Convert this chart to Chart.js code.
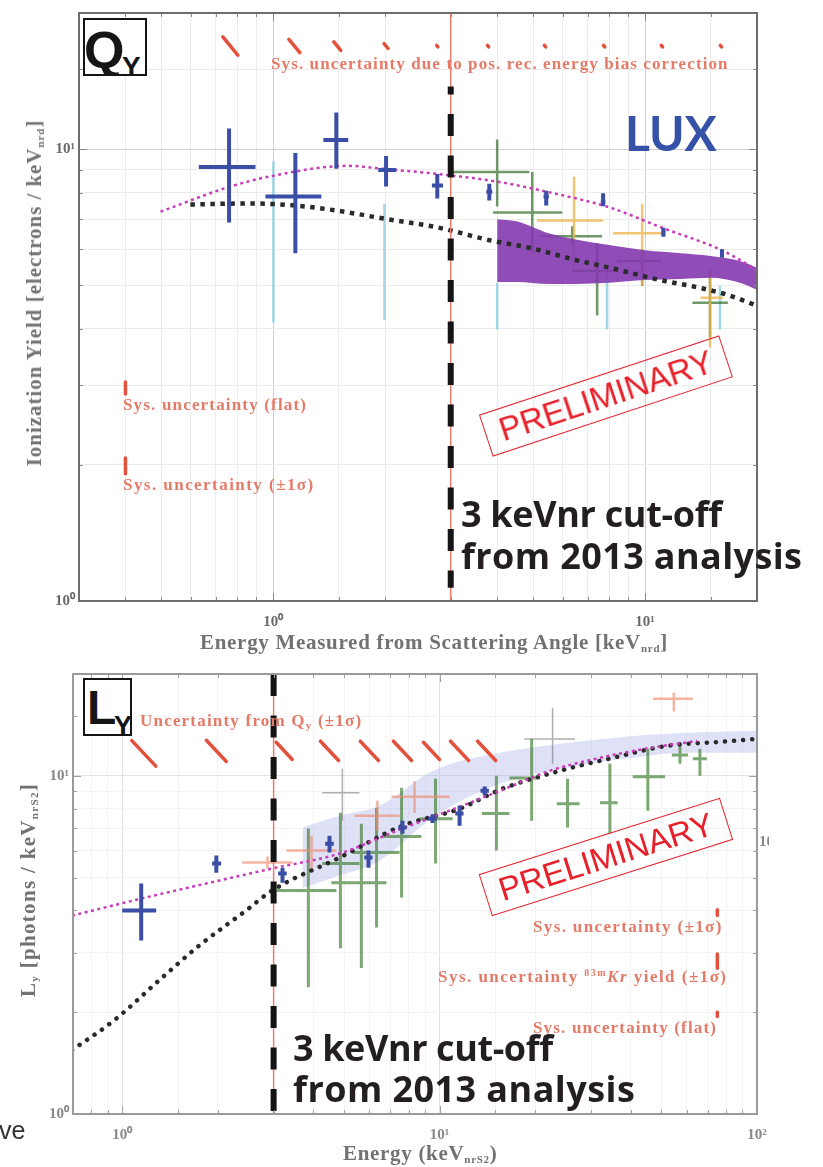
<!DOCTYPE html>
<html>
<head>
<meta charset="utf-8">
<title>LUX Qy and Ly</title>
<script src="https://cdn.jsdelivr.net/npm/chart.js@4.4.1/dist/chart.umd.min.js"></script>
<style>
  body { margin: 0; background: #fff; }
  #page { position: relative; width: 823px; height: 1167px; overflow: hidden; background: #fff; }
  canvas { position: absolute; left: 0; }
  .txt { position: absolute; white-space: nowrap; }
  .sys { font: bold 17px/16px 'Liberation Serif', serif; color: #e47a68; }
  .title { font: bold 21px/20px 'Liberation Serif', serif; color: #727272; }
  .title sub, .sys sub { font-size: 11px; vertical-align: -3px; line-height: 0; }
  .sys sup { font-size: 10px; vertical-align: 6px; line-height: 0; }
  .ytitle { transform: translate(-50%, -50%) rotate(-90deg); }
  .cutoff { font: 700 36px/1 'Open Sans', sans-serif; color: #231f20; }
  .prelim { border: 1.5px solid #e8202a; color: #e8202a; font: 33px/38px 'Liberation Sans', Arial, sans-serif;
            padding: 2px 14px; transform: translate(-50%, -50%) rotate(-18.3deg); }
  .tag { position: absolute; border: 2.5px solid #151515; overflow: hidden; background: #fff;
         font-family: 'Liberation Sans', Arial, sans-serif; font-weight: bold; color: #151515; line-height: 1; }
  .tag span { position: absolute; }
</style>
</head>
<body>
<div id="page">
  <canvas id="qyChart" width="823" height="660" style="top:0"></canvas>
  <canvas id="lyChart" width="823" height="507" style="top:660px"></canvas>

  <!-- Qy panel labels -->
  <div class="tag" style="left:83px;top:18px;width:60px;height:54px"><span style="left:-1px;top:4px;font-size:52px">Q</span><span style="left:37px;top:33px;font-size:28px">Y</span></div>
  <div class="txt" style="left:625px;top:109px;font:700 48px/1 Lato,sans-serif;color:#3552a8">LUX</div>
  <div class="txt sys" data-w="458" style="left:271px;top:56px">Sys. uncertainty due to pos. rec. energy bias correction</div>
  <div class="txt sys" data-w="184" style="left:123px;top:397px">Sys. uncertainty (flat)</div>
  <div class="txt sys" data-w="192" style="left:123px;top:477px">Sys. uncertainty (±1σ)</div>
  <div class="txt prelim" style="left:606px;top:396px">PRELIMINARY</div>
  <div class="txt cutoff" data-w="261" style="left:461px;top:496px">3 keVnr cut-off</div>
  <div class="txt cutoff" data-w="341" style="left:461px;top:538px">from 2013 analysis</div>
  <div class="txt title" data-w="468" style="left:200px;top:632px">Energy Measured from Scattering Angle [keV<sub>nrd</sub>]</div>
  <div class="txt title ytitle" data-w="347" style="left:34px;top:293px">Ionization Yield [electrons / keV<sub>nrd</sub>]</div>

  <!-- Ly panel labels -->
  <div class="tag" style="left:83px;top:678px;width:45px;height:54px"><span style="left:2px;top:4px;font-size:48px">L</span><span style="left:29px;top:33px;font-size:27px">Y</span></div>
  <div class="txt sys" data-w="222" style="left:140px;top:713px">Uncertainty from Q<sub>y</sub> (±1σ)</div>
  <div class="txt sys" data-w="190" style="left:533px;top:919px">Sys. uncertainty (±1σ)</div>
  <div class="txt sys" data-w="290" style="left:438px;top:969px">Sys. uncertainty <sup>83m</sup><i>Kr</i> yield (±1σ)</div>
  <div class="txt sys" data-w="184" style="left:533px;top:1020px">Sys. uncertainty (flat)</div>
  <div class="txt prelim" style="left:606px;top:857px;transform:translate(-50%,-50%) rotate(-17.6deg)">PRELIMINARY</div>
  <div class="txt cutoff" data-w="260" style="left:293px;top:1030px">3 keVnr cut-off</div>
  <div class="txt cutoff" data-w="342" style="left:293px;top:1071px">from 2013 analysis</div>
  <div class="txt title" data-w="154" style="left:343px;top:1143px">Energy (keV<sub>nrS2</sub>)</div>
  <div class="txt title ytitle" data-w="214" style="left:28px;top:890px">L<sub>y</sub> [photons / keV<sub>nrS2</sub>]</div>
  <div class="txt" style="left:759px;top:834px;width:10px;overflow:hidden;font:bold 15px/1 'Liberation Serif',serif;color:#888">10</div>
  <div class="txt" style="left:-1px;top:1118px;font:25px/1 'Liberation Sans',sans-serif;color:#333">ve</div>
</div>

<script>
// ---------- Qy panel (ionization yield, electrons/keVnr) ----------
const qyCutoff = 3;
const qyCutoffDash = [13.75, 1.07];

// rows: [E, Elo, Ehi, Qy, QyLo, QyHi]
const qyBlue = [
  [0.76, 0.63, 0.895, 9.13, 6.88, 11.1],
  [1.146, 0.952, 1.346, 7.85, 5.88, 9.8],
  [1.477, 1.363, 1.59, 10.47, 9.04, 12.05],
  [2.01, 1.915, 2.14, 8.99, 8.26, 9.65],
  [2.76, 2.67, 2.86, 8.3, 7.77, 8.81],
  [3.81, 3.74, 3.88, 8.05, 7.69, 8.38],
  [5.42, 5.33, 5.51, 7.85, 7.5, 8.09],
  [7.71, 7.6, 7.82, 7.65, 7.47, 7.98],
  [11.2, 11.05, 11.35, 6.54, 6.4, 6.7],
  [16.1, 15.9, 16.3, 5.88, 5.75, 6.0]
];
const qyGreen = [
  [4.0, 3.0, 4.88, 8.9, 7.46, 10.5],
  [4.97, 3.9, 5.98, 7.24, 5.88, 8.9],
  [6.37, 5.22, 7.66, 6.41, 6.1, 6.75],
  [7.43, 6.37, 8.3, 5.37, 4.28, 6.19],
  [9.82, 8.41, 11.1, 5.65, 4.98, 6.0],
  [14.95, 13.4, 16.7, 4.57, 3.83, 5.4]
];
const qyOrange = [
  [6.44, 5.12, 7.71, 6.95, 5.4, 8.68],
  [9.82, 8.2, 11.2, 6.51, 4.98, 7.57],
  [14.95, 14.1, 16.2, 4.69, 3.64, 5.4]
];
// rows: [E, QyLo, QyHi]
const qyCyan = [
  [1.0, 4.13, 9.4],
  [1.99, 4.18, 7.57],
  [4.0, 3.99, 5.06],
  [7.9, 3.99, 5.4],
  [15.9, 3.99, 4.98]
];

// shaded band
const qyBandE = [4.0, 4.5, 5.5, 6.5, 8, 10, 12.5, 15, 18, 20];
const qyBandHi = [6.99, 6.92, 6.51, 6.31, 6.13, 5.97, 5.88, 5.80, 5.65, 5.46];
const qyBandLo = [5.08, 5.08, 5.03, 5.03, 5.06, 5.13, 5.16, 5.19, 5.06, 4.88];

// black dotted model and magenta dotted fit
const qyModelE = [0.598, 0.867, 1.146, 1.477, 1.976, 2.76, 3.83, 4.91, 6.52, 8.05, 10.97, 14.06, 16.9, 20];
const qyModelQ = [7.54, 7.58, 7.50, 7.31, 7.02, 6.71, 6.28, 6.04, 5.68, 5.46, 5.13, 4.93, 4.74, 4.50];
const qyFitE = [0.497, 0.762, 1.0, 1.58, 1.976, 2.76, 4.0, 5.42, 8.05, 11.2, 16.1, 20];
const qyFitQ = [7.27, 8.25, 8.73, 9.18, 9.04, 8.81, 8.47, 8.05, 7.42, 6.68, 5.97, 5.40];

// energy-bias systematic (slanted marks along the top)
const qyBiasE = [0.766, 1.139, 1.486, 2.01, 2.76, 3.78, 5.38, 7.76, 11.1, 16.0];
const qyBiasSpread = [0.0475, 0.0346, 0.0219, 0.0125, 0.004, 0.004, 0.004, 0.004, 0.004, 0.004];
const qyBiasLevel = 16.9;

// legend bars: flat, +-1 sigma
const qySysE = 0.4;
const qySysQ = [2.96, 1.99];
const qySysSpread = [0.031, 0.041];

// ---------- Ly panel (light yield, photons/keVnr) ----------
const lyCutoff = 3;

// rows: [E, Elo, Ehi, Ly, LyLo, LyHi]
const lyBlue = [
  [1.148, 1.0, 1.28, 4.0, 3.26, 4.8],
  [1.98, 1.92, 2.05, 5.5, 5.17, 5.81],
  [3.2, 3.1, 3.3, 5.14, 4.83, 5.35],
  [4.5, 4.36, 4.64, 6.3, 5.93, 6.65],
  [5.97, 5.79, 6.15, 5.73, 5.35, 6.01],
  [7.64, 7.41, 7.87, 7.03, 6.74, 7.36],
  [9.5, 9.2, 9.8, 7.47, 7.25, 7.7],
  [11.56, 11.2, 11.9, 7.73, 7.12, 8.16],
  [13.87, 13.45, 14.3, 9.03, 8.75, 9.3]
];
const lyGreen = [
  [3.86, 3.06, 4.73, 4.58, 2.37, 6.98],
  [4.87, 4.27, 5.59, 5.5, 3.09, 7.78],
  [5.67, 4.56, 6.8, 4.83, 2.7, 7.22],
  [6.33, 5.32, 7.48, 5.93, 3.56, 8.05],
  [7.59, 6.56, 8.77, 6.61, 4.37, 9.22],
  [9.71, 8.65, 11.0, 7.47, 5.5, 9.8],
  [15.1, 13.6, 16.6, 7.73, 6.01, 10.0],
  [19.5, 16.6, 20.7, 9.86, 7.36, 12.85],
  [25.3, 23.4, 27.6, 8.27, 7.03, 9.8],
  [34.4, 32, 36.4, 8.33, 6.74, 10.85],
  [45.3, 40.6, 51.3, 9.93, 7.88, 12.02],
  [57.2, 53.9, 60.6, 11.53, 10.85, 12.27],
  [66.1, 62.8, 69.5, 11.23, 10.0, 12.02]
];
const lyGrey = [
  [4.94, 4.27, 5.59, 8.91, 7.36, 10.5],
  [22.7, 18.5, 26.7, 12.85, 10.85, 15.9]
];
const lySalmon = [
  [2.87, 2.39, 3.44, 5.54, 5.32, 5.77],
  [3.95, 3.29, 4.73, 6.01, 5.25, 6.65],
  [6.37, 5.39, 7.48, 7.62, 6.88, 8.44],
  [8.34, 7.06, 10.75, 8.67, 7.78, 9.64],
  [54.7, 47, 62.8, 16.9, 15.5, 17.6]
];

const lyBandE = [3.7, 4.84, 6.47, 9.5, 15.5, 25.2, 40.6, 58.4, 100];
const lyBandHi = [7.03, 7.62, 8.16, 10.34, 11.69, 12.51, 13.12, 13.39, 13.58];
const lyBandLo = [4.67, 5.07, 5.61, 7.52, 9.47, 10.56, 11.3, 11.69, 11.69];

const lyModelE = [0.695, 0.944, 1.308, 1.75, 2.46, 2.97, 4.84, 7.64, 11.56, 15.8, 23.9, 35.1, 52.0, 76.4, 100];
const lyModelL = [1.545, 1.893, 2.485, 3.15, 4.0, 4.58, 5.73, 7.12, 7.99, 9.16, 10.34, 11.3, 12.26, 12.6, 12.85];
const lyFitE = [0.695, 1.156, 2.97, 4.84, 7.48, 11.56, 15.5, 22.2, 32, 46, 64.7];
const lyFitL = [3.86, 4.34, 5.32, 5.89, 6.93, 8.1, 9.03, 10.34, 11.3, 12.09, 12.68];

// uncertainty propagated from Qy (slanted marks)
const lyQyE = [1.17, 1.98, 3.24, 4.5, 6.01, 7.64, 9.43, 11.56, 14.07];
const lyQySpread = [0.091, 0.075, 0.06, 0.068, 0.068, 0.068, 0.06, 0.068, 0.068];
const lyQyLevel = [11.65, 11.85, 11.85, 11.85, 11.85, 11.85, 11.85, 11.85, 11.85];

// legend bars: +-1 sigma, 83mKr yield, flat
const lySysE = 75;
const lySysL = [3.94, 2.83, 1.97];
const lySysSpread = [0.02, 0.05, 0.015];

// ---------- helpers ----------
const sup = ['\u2070', '\u00b9', '\u00b2'];
const isDecade = v => Math.abs(Math.log10(v) - Math.round(Math.log10(v))) < 1e-6;

const toCross = rows => rows.map(([x, xMin, xMax, y, yMin, yMax]) => ({ x, y, xMin, xMax, yMin, yMax }));
const toBar = rows => rows.map(([x, yMin, yMax]) => ({ x, y: Math.sqrt(yMin * yMax), yMin, yMax }));
const toLine = (xs, ys) => xs.map((x, i) => ({ x, y: ys[i] }));
const toSlash = (xs, spread, level) => xs.map((x, i) => ({ x, y: Array.isArray(level) ? level[i] : level, s: spread[i] }));
const sysBars = (e, vals, spread) => vals.map((v, i) => ({ x: e, y: v, yMin: v / (1 + spread[i]), yMax: v * (1 + spread[i]) }));
const vertical = (e, ys) => [{ x: e, y: ys[0] }, { x: e, y: ys[1] }];

function line(data, o) {
  return {
    data, showLine: true, pointRadius: 0, fill: o.fill || false,
    backgroundColor: o.bg || 'transparent',
    borderColor: o.color || 'transparent', borderWidth: o.width || 1,
    borderDash: o.dash || [], borderDashOffset: o.dashOffset || 0,
    borderCapStyle: o.cap || 'butt',
    cubicInterpolationMode: o.smooth ? 'monotone' : 'default'
  };
}

function marks(type, data, color, width, cap) {
  return { data, showLine: false, pointRadius: 0, mark: type, markColor: color, markWidth: width, markCap: cap || 'butt' };
}

// error bars and slanted marks, drawn right after their own dataset so stacking follows dataset order
const marksPlugin = {
  id: 'marks',
  afterDatasetDraw(chart, args) {
    const ds = chart.data.datasets[args.index];
    if (!ds.mark) return;
    const { ctx, chartArea: a, scales: { x, y } } = chart;
    ctx.save();
    ctx.beginPath();
    ctx.rect(a.left, a.top, a.right - a.left, a.bottom - a.top);
    ctx.clip();
    ctx.strokeStyle = ds.markColor;
    ctx.lineWidth = ds.markWidth;
    ctx.lineCap = ds.markCap;
    ctx.beginPath();
    ds.data.forEach(p => {
      if (ds.mark === 'slash') {
        ctx.moveTo(x.getPixelForValue(p.x / (1 + p.s)), y.getPixelForValue(p.y * (1 + p.s)));
        ctx.lineTo(x.getPixelForValue(p.x * (1 + p.s)), y.getPixelForValue(p.y / (1 + p.s)));
        return;
      }
      const px = x.getPixelForValue(p.x);
      const py = y.getPixelForValue(p.y);
      if (p.xMin !== undefined) {
        ctx.moveTo(x.getPixelForValue(p.xMin), py);
        ctx.lineTo(x.getPixelForValue(p.xMax), py);
      }
      ctx.moveTo(px, y.getPixelForValue(p.yMin));
      ctx.lineTo(px, y.getPixelForValue(p.yMax));
    });
    ctx.stroke();
    ctx.restore();
  }
};

// box around the plot with small inward ticks on all four sides
const framePlugin = {
  id: 'frame',
  afterDraw(chart, args, opts) {
    const { ctx, chartArea: a, scales: { x, y } } = chart;
    ctx.save();
    ctx.strokeStyle = opts.tickColor;
    ctx.lineWidth = 1;
    ctx.beginPath();
    x.ticks.forEach(t => {
      const px = Math.round(x.getPixelForValue(t.value)) + 0.5;
      const len = isDecade(t.value) ? 8 : 4;
      ctx.moveTo(px, a.bottom); ctx.lineTo(px, a.bottom - len);
      ctx.moveTo(px, a.top); ctx.lineTo(px, a.top + len);
    });
    y.ticks.forEach(t => {
      const py = Math.round(y.getPixelForValue(t.value)) + 0.5;
      const len = isDecade(t.value) ? 8 : 4;
      ctx.moveTo(a.left, py); ctx.lineTo(a.left + len, py);
      ctx.moveTo(a.right, py); ctx.lineTo(a.right - len, py);
    });
    ctx.stroke();
    ctx.strokeStyle = opts.color;
    ctx.lineWidth = opts.width;
    ctx.strokeRect(a.left, a.top, a.right - a.left, a.bottom - a.top);
    ctx.restore();
  }
};

function logAxis(min, max, size, horizontal, grid, labelColor) {
  return {
    type: 'logarithmic', min, max,
    afterFit(scale) { if (horizontal) scale.height = size; else scale.width = size; },
    border: { display: false },
    grid: { drawTicks: false, color: c => isDecade(c.tick.value) ? grid[0] : grid[1] },
    ticks: {
      autoSkip: false, maxRotation: 0, padding: horizontal ? 12 : 4,
      color: labelColor,
      font: { family: "'Liberation Serif', serif", weight: 'bold', size: 15 },
      callback: v => isDecade(v) ? '10' + sup[Math.round(Math.log10(v))] : ''
    }
  };
}

function makePanel(id, p) {
  return new Chart(document.getElementById(id), {
    type: 'scatter',
    data: { datasets: p.datasets },
    options: {
      responsive: false,
      animation: false,
      layout: { padding: p.padding },
      plugins: { legend: { display: false }, tooltip: { enabled: false }, frame: p.frame },
      scales: { x: p.x, y: p.y }
    },
    plugins: [marksPlugin, framePlugin]
  });
}

// ---------- Qy chart (first dataset ends up on top) ----------
makePanel('qyChart', {
  padding: { left: 0, right: 66, top: 8, bottom: 0 },
  frame: { color: '#6e6e6e', width: 2, tickColor: '#8a8a8a' },
  x: logAxis(0.3, 20, 59, true, ['#cfcfcf', '#ececec'], '#6a6a6a'),
  y: logAxis(1, 20, 79, false, ['#cfcfcf', '#ececec'], '#6a6a6a'),
  datasets: [
    line(vertical(qyCutoff, qyCutoffDash), { color: '#141414', width: 6, dash: [22, 19.5], dashOffset: 14 }),
    line(vertical(qyCutoff, [20, 1]), { color: '#f07c6c', width: 1.5 }),
    marks('cross', toCross(qyBlue), '#3a4ea5', 4),
    line(toLine(qyFitE, qyFitQ), { color: '#c83cb8', width: 2.5, dash: [3, 3.5], smooth: true }),
    line(toLine(qyModelE, qyModelQ), { color: '#2a2a2a', width: 4.5, dash: [4.5, 5.5], smooth: true }),
    line(toLine(qyBandE, qyBandHi), { fill: '+1', bg: 'rgba(132,58,176,0.9)', smooth: true }),
    line(toLine(qyBandE, qyBandLo), { smooth: true }),
    marks('cross', toCross(qyOrange), 'rgba(238,178,70,0.75)', 2.5),
    marks('cross', toCross(qyGreen), 'rgba(62,118,52,0.75)', 2.5),
    marks('cross', toBar(qyCyan), 'rgba(140,205,222,0.8)', 2.5),
    marks('slash', toSlash(qyBiasE, qyBiasSpread, qyBiasLevel), '#e3503c', 3.5, 'round'),
    marks('cross', sysBars(qySysE, qySysQ, qySysSpread), '#e3503c', 3.5, 'round')
  ]
});

// ---------- Ly chart ----------
makePanel('lyChart', {
  padding: { left: 0, right: 66, top: 14, bottom: 0 },
  frame: { color: '#9a9a9a', width: 2, tickColor: '#a0a0a0' },
  x: logAxis(0.7, 100, 53, true, ['#e2e2e2', '#f3f3f3'], '#888'),
  y: logAxis(1, 20, 73, false, ['#e2e2e2', '#f3f3f3'], '#888'),
  datasets: [
    line(vertical(lyCutoff, [20, 1]), { color: '#141414', width: 6, dash: [22, 19.5] }),
    line(vertical(lyCutoff, [20, 1]), { color: '#f07c6c', width: 1.5 }),
    marks('cross', toCross(lyBlue), '#3a4ea5', 4),
    line(toLine(lyFitE, lyFitL), { color: '#c83cb8', width: 2.5, dash: [3, 3.5], smooth: true }),
    line(toLine(lyModelE, lyModelL), { color: '#2a2a2a', width: 4.5, dash: [0.1, 9], cap: 'round', smooth: true }),
    marks('slash', toSlash(lyQyE, lyQySpread, lyQyLevel), '#e3503c', 3.5, 'round'),
    marks('cross', toCross(lySalmon), 'rgba(236,140,110,0.65)', 2.5),
    marks('cross', toCross(lyGreen), 'rgba(70,130,55,0.7)', 3),
    marks('cross', toCross(lyGrey), 'rgba(110,110,110,0.55)', 1.5),
    line(toLine(lyBandE, lyBandHi), { fill: '+1', bg: 'rgba(175,180,235,0.4)', smooth: true }),
    line(toLine(lyBandE, lyBandLo), { smooth: true }),
    marks('cross', sysBars(lySysE, lySysL, lySysSpread), '#e3503c', 3.5, 'round')
  ]
});

// spread the labels to their measured widths
document.querySelectorAll('[data-w]').forEach(el => {
  const extra = (+el.dataset.w - el.offsetWidth) / el.textContent.length;
  el.style.letterSpacing = extra.toFixed(2) + 'px';
});
</script>
</body>
</html>
